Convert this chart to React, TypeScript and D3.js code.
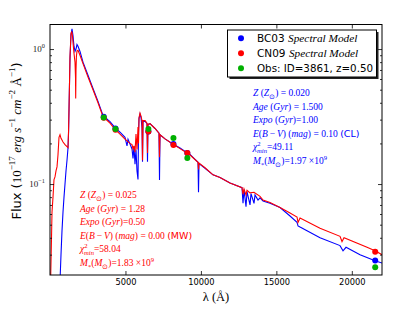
import React, { Component } from 'react';
import * as d3 from 'd3';

const bc03Spectrum: [number, number][] = [
  [663, 0.019], [729, 0.030], [795, 0.045], [862, 0.062], [928, 0.080], [994, 0.100],
  [1060, 0.125], [1127, 0.150], [1193, 0.185], [1230, 0.24], [1259, 0.35], [1292, 0.55],
  [1325, 0.85], [1392, 1.28], [1458, 1.41], [1524, 1.26], [1590, 1.05], [1657, 0.96],
  [1723, 1.00], [1789, 1.08], [1856, 1.05], [1988, 0.96], [2187, 0.80], [2518, 0.64],
  [2850, 0.51], [3181, 0.41], [3512, 0.322], [3844, 0.298], [3976, 0.290], [4308, 0.262],
  [4639, 0.242], [4970, 0.222], [5103, 0.192], [5169, 0.215], [5302, 0.198], [5434, 0.182],
  [5500, 0.155], [5567, 0.190], [5633, 0.140], [5699, 0.180], [5765, 0.125], [5832, 0.108],
  [5865, 0.240], [5898, 0.305], [5964, 0.330], [6031, 0.312], [6097, 0.260], [6130, 0.146],
  [6163, 0.290], [6296, 0.292], [6428, 0.280], [6461, 0.146], [6494, 0.276], [6627, 0.280],
  [6958, 0.258], [7223, 0.238], [7256, 0.107], [7290, 0.232], [7621, 0.216], [8085, 0.200],
  [8615, 0.185], [9079, 0.171], [9278, 0.166], [9808, 0.145], [9841, 0.087], [9874, 0.142],
  [10272, 0.131], [10802, 0.117], [11266, 0.112], [11929, 0.102], [12724, 0.094], [12790, 0.072],
  [12856, 0.091], [12989, 0.068], [13055, 0.088], [13254, 0.070], [13320, 0.085], [13519, 0.072],
  [13585, 0.083], [13784, 0.076], [13917, 0.079], [14116, 0.075], [14579, 0.072], [15242, 0.067],
  [15905, 0.058], [16369, 0.052], [16435, 0.049], [16568, 0.048], [17893, 0.040], [19218, 0.035],
  [19417, 0.032], [19616, 0.034], [20544, 0.030], [21538, 0.027], [22002, 0.026]
];

const cn09Spectrum: [number, number][] = [
  [40, 0.019], [100, 0.040], [133, 0.062], [199, 0.080], [265, 0.108], [331, 0.113],
  [398, 0.125], [464, 0.134], [530, 0.165], [596, 0.222], [663, 0.232], [729, 0.218],
  [795, 0.212], [862, 0.205], [994, 0.196], [1127, 0.189], [1193, 0.186], [1230, 0.25],
  [1259, 0.36], [1292, 0.55], [1325, 0.88], [1392, 1.30], [1440, 1.35], [1490, 1.25],
  [1524, 1.12], [1590, 0.93], [1657, 0.80], [1690, 0.62], [1703, 0.43], [1723, 0.70],
  [1750, 0.88], [1789, 0.97], [1856, 0.98], [1988, 0.90], [2187, 0.78], [2518, 0.62],
  [2850, 0.50], [3181, 0.40], [3512, 0.315], [3844, 0.292], [3976, 0.283], [4308, 0.254],
  [4639, 0.234], [4970, 0.215], [5302, 0.200], [5434, 0.196], [5500, 0.182], [5567, 0.192],
  [5633, 0.172], [5699, 0.235], [5765, 0.180], [5832, 0.265], [5865, 0.200], [5898, 0.31],
  [5964, 0.335], [6031, 0.318], [6097, 0.295], [6130, 0.150], [6163, 0.295], [6296, 0.295],
  [6428, 0.282], [6461, 0.170], [6494, 0.278], [6627, 0.280], [6958, 0.258], [7223, 0.238],
  [7256, 0.158], [7290, 0.232], [7621, 0.216], [8085, 0.200], [8615, 0.183], [9079, 0.170],
  [9278, 0.164], [9808, 0.145], [9841, 0.128], [9874, 0.143], [10272, 0.132], [10802, 0.117],
  [11266, 0.112], [11929, 0.102], [12724, 0.094], [12790, 0.084], [12856, 0.092], [12989, 0.083],
  [13055, 0.090], [13254, 0.086], [13519, 0.087], [13917, 0.081], [14116, 0.076], [14579, 0.073],
  [15242, 0.067], [15905, 0.061], [16369, 0.057], [16435, 0.052], [16568, 0.056], [17893, 0.047],
  [19218, 0.041], [19351, 0.0375], [19484, 0.040], [21008, 0.034], [21538, 0.032], [22002, 0.030]
];

// photometry
const obsWave = [3560, 4340, 6520, 8180, 9100, 21550];
const obsFlux = [0.311, 0.256, 0.256, 0.219, 0.156, 0.0242];
const bc03PhotFlux = [0.315, 0.258, 0.245, 0.198, 0.170, 0.0272];
const cn09PhotFlux = [0.310, 0.252, 0.245, 0.195, 0.170, 0.0315];

const xTicks = [5000, 10000, 15000, 20000];
const yMajorTicks = [0.1, 1];
const yTickExp = ['\u22121', '0'];

const legendLabels = ['BC03', 'CN09', 'Obs: ID=3861, z=0.50'];

// text segment for the mathtext-like labels
interface ISeg {
  t: string;
  it?: boolean;
  sans?: boolean;
  sup?: boolean;
  sub?: boolean;
  dx?: number;
  size?: number;
}

const bc03Notes: ISeg[][] = [
  [{ t: 'Z', it: true }, { t: ' (' }, { t: 'Z', it: true }, { t: '\u2299', sub: true }, { t: ') = 0.020' }],
  [{ t: 'Age', it: true }, { t: ' (' }, { t: 'Gyr', it: true }, { t: ') = 1.500' }],
  [{ t: 'Expo', it: true }, { t: ' (' }, { t: 'Gyr', it: true }, { t: ')=1.00' }],
  [{ t: 'E', it: true }, { t: '(' }, { t: 'B', it: true }, { t: '\u2009\u2212\u2009' }, { t: 'V', it: true }, { t: ') (' },
   { t: 'mag', it: true }, { t: ') = 0.10 ' }, { t: '(CL)', sans: true }],
  [{ t: '\u03c7', it: true }, { t: '2', sup: true }, { t: 'min', it: true, sub: true, dx: -3.5 }, { t: '=49.11' }],
  [{ t: 'M', it: true }, { t: '*', sub: true }, { t: '(' }, { t: 'M', it: true }, { t: '\u2299', sub: true },
   { t: ')=1.97 \u00d710' }, { t: '9', sup: true }]
];

const cn09Notes: ISeg[][] = [
  [{ t: 'Z', it: true }, { t: ' (' }, { t: 'Z', it: true }, { t: '\u2299', sub: true }, { t: ') = 0.025' }],
  [{ t: 'Age', it: true }, { t: ' (' }, { t: 'Gyr', it: true }, { t: ') = 1.28' }],
  [{ t: 'Expo', it: true }, { t: ' (' }, { t: 'Gyr', it: true }, { t: ')=0.50' }],
  [{ t: 'E', it: true }, { t: '(' }, { t: 'B', it: true }, { t: '\u2009\u2212\u2009' }, { t: 'V', it: true }, { t: ') (' },
   { t: 'mag', it: true }, { t: ') = 0.00 ' }, { t: '(MW)', sans: true }],
  [{ t: '\u03c7', it: true }, { t: '2', sup: true }, { t: 'min', it: true, sub: true, dx: -3.5 }, { t: '=58.04' }],
  [{ t: 'M', it: true }, { t: '*', sub: true }, { t: '(' }, { t: 'M', it: true }, { t: '\u2299', sub: true },
   { t: ')=1.83 \u00d710' }, { t: '9', sup: true }]
];

const yLabel: ISeg[] = [
  { t: 'Flux (', sans: true }, { t: '10' }, { t: '\u221217', sup: true }, { t: ' ' }, { t: 'erg', it: true },
  { t: ' ' }, { t: 's', it: true }, { t: '\u22121', sup: true }, { t: ' ' }, { t: 'cm', it: true },
  { t: '\u22122', sup: true }, { t: ' \u00c5' }, { t: '\u22121', sup: true }, { t: ')', sans: true }
];

const SERIF = '"Liberation Serif", serif';
const SANS = '"DejaVu Sans", sans-serif';

function mathText(sel: any, segs: ISeg[], size: number) {
  let shift = 0;
  segs.forEach((s) => {
    const target = s.sup ? -0.42 * size : s.sub ? 0.3 * size : 0;
    const ts = sel.append('tspan')
      .attr('font-family', s.sans ? SANS : SERIF)
      .attr('font-style', s.it ? 'italic' : 'normal')
      .attr('font-size', s.size ? s.size : s.sup || s.sub ? size * 0.7 : size)
      .attr('dy', target - shift)
      .attr('xml:space', 'preserve')
      .text(s.t);
    if (s.dx) { ts.attr('dx', s.dx); }
    shift = target;
  });
}

class SpectrumChart extends Component {
  svgRef = React.createRef<SVGSVGElement>();

  componentDidMount() {
    this.draw();
  }

  draw() {
    const width = 415;
    const height = 314;
    const pad = { left: 50, right: 382, top: 24.5, bottom: 275 };

    const svg = d3.select(this.svgRef.current);
    svg.selectAll('*').remove();
    svg.attr('width', width).attr('height', height);

    const xScale = d3.scaleLinear().domain([0, 22000]).range([pad.left, pad.right]);
    const yScale = d3.scaleLog().domain([0.0212, 1.52]).range([pad.bottom, pad.top]);

    svg.append('rect').attr('width', width).attr('height', height).attr('fill', '#fff');

    svg.append('clipPath').attr('id', 'plot-clip')
      .append('rect')
      .attr('x', pad.left).attr('y', pad.top)
      .attr('width', pad.right - pad.left).attr('height', pad.bottom - pad.top);

    const line = d3.line<[number, number]>()
      .x((d) => xScale(d[0]))
      .y((d) => yScale(d[1]));

    const plot = svg.append('g').attr('clip-path', 'url(#plot-clip)');

    plot.append('path')
      .attr('d', line(bc03Spectrum)!)
      .attr('stroke', '#0000ff')
      .attr('stroke-width', 1.1)
      .attr('fill', 'none');

    plot.append('path')
      .attr('d', line(cn09Spectrum)!)
      .attr('stroke', '#ff0000')
      .attr('stroke-width', 1.1)
      .attr('fill', 'none');

    const dots = (flux: number[], color: string) => {
      plot.append('g')
        .selectAll('circle')
        .data(obsWave)
        .enter()
        .append('circle')
        .attr('cx', (d: number) => xScale(d))
        .attr('cy', (d: number, i: number) => yScale(flux[i]))
        .attr('r', 3)
        .attr('fill', color);
    };
    dots(bc03PhotFlux, '#0000ff');
    dots(cn09PhotFlux, '#ff0000');
    dots(obsFlux, '#00b000');

    // ticks point inwards on all four sides
    const minor: number[] = [];
    [0.01, 0.1, 1].forEach((dec) => {
      for (let k = 2; k <= 9; k++) {
        const v = k * dec;
        if (v > 0.0212 && v < 1.52) { minor.push(v); }
      }
    });

    const styleAxis = (g: any) => {
      g.select('.domain').remove();
      g.selectAll('line').attr('stroke', '#000').attr('stroke-width', 0.8);
    };

    svg.append('g')
      .attr('transform', `translate(0,${pad.bottom})`)
      .call(d3.axisBottom(xScale).tickValues(xTicks).tickSize(-4).tickPadding(4).tickFormat(d3.format('d')))
      .call(styleAxis)
      .call((g: any) => g.selectAll('text').attr('font-size', 8.3).attr('font-family', SANS).attr('fill', '#000'));

    svg.append('g')
      .attr('transform', `translate(0,${pad.top})`)
      .call(d3.axisTop(xScale).tickValues(xTicks).tickSize(-4).tickFormat(() => ''))
      .call(styleAxis);

    [[d3.axisLeft, pad.left], [d3.axisRight, pad.right]].forEach(([axis, xPos]: any) => {
      svg.append('g')
        .attr('transform', `translate(${xPos},0)`)
        .call(axis(yScale).tickValues(yMajorTicks).tickSize(-4).tickFormat(() => ''))
        .call(styleAxis);
      svg.append('g')
        .attr('transform', `translate(${xPos},0)`)
        .call(axis(yScale).tickValues(minor).tickSize(-2).tickFormat(() => ''))
        .call(styleAxis);
    });

    yMajorTicks.forEach((v, i) => {
      const t = svg.append('text')
        .attr('x', pad.left - 5)
        .attr('y', yScale(v) + 3)
        .attr('text-anchor', 'end')
        .attr('fill', '#222');
      mathText(t, [{ t: '10' }, { t: yTickExp[i], sup: true }], 9);
    });

    svg.append('rect')
      .attr('x', pad.left).attr('y', pad.top)
      .attr('width', pad.right - pad.left).attr('height', pad.bottom - pad.top)
      .attr('fill', 'none').attr('stroke', '#000').attr('stroke-width', 1);

    // axis labels
    const xl = svg.append('text')
      .attr('x', (pad.left + pad.right) / 2)
      .attr('y', 301)
      .attr('text-anchor', 'middle')
      .attr('fill', '#000');
    mathText(xl, [{ t: '\u03bb (\u00c5)' }], 12.5);

    const yl = svg.append('text')
      .attr('transform', 'translate(20.5,141) rotate(-90)')
      .attr('text-anchor', 'middle')
      .attr('fill', '#000');
    mathText(yl, yLabel, 13);

    // parameter notes
    const notes = (rows: ISeg[][], x: number, y0: number, color: string) => {
      rows.forEach((segs, i) => {
        const t = svg.append('text')
          .attr('x', x)
          .attr('y', y0 + i * 13.6)
          .attr('fill', color);
        mathText(t, segs, 9.5);
      });
    };
    notes(bc03Notes, 253, 96, '#0000ff');
    notes(cn09Notes, 80, 198, '#ff0000');

    // legend with shadow
    const lg = svg.append('g');
    lg.append('rect').attr('x', 229.5).attr('y', 32).attr('width', 149).attr('height', 47).attr('fill', '#222');
    lg.append('rect').attr('x', 227.5).attr('y', 30).attr('width', 149).attr('height', 47)
      .attr('fill', '#fff').attr('stroke', '#000').attr('stroke-width', 1);
    const legendColors = ['#0000ff', '#ff0000', '#00b000'];
    legendLabels.forEach((lab, i) => {
      const cy = 38.3 + i * 15;
      lg.append('circle').attr('cx', 241).attr('cy', cy).attr('r', 3).attr('fill', legendColors[i]);
      const t = lg.append('text').attr('x', 257).attr('y', cy + 3.8).attr('fill', '#000');
      if (i < 2) {
        mathText(t, [{ t: lab + ' ', sans: true }, { t: 'Spectral Model', it: true, size: 11.3 }], 10.5);
      } else {
        mathText(t, [{ t: lab, sans: true }], 10.3);
      }
    });
  }

  render() {
    return (
      <svg ref={this.svgRef} style={{ position: 'absolute', left: 0, top: 0 }} />
    );
  }
}

export default function App() {
  return <SpectrumChart />;
}
